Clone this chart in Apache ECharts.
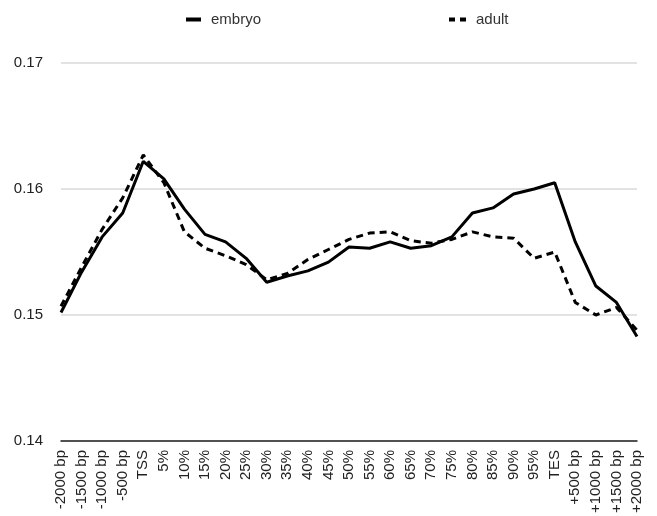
<!DOCTYPE html>
<html>
<head>
<meta charset="utf-8">
<script src="https://cdn.jsdelivr.net/npm/echarts@6/dist/echarts.min.js"></script>
<style>
html,body{margin:0;padding:0;background:#fff;}
#c{width:657px;height:516px;}
</style>
</head>
<body>
<div id="c"></div>
<script>
var categories = ['-2000 bp','-1500 bp','-1000 bp','-500 bp','TSS','5%','10%','15%','20%','25%','30%','35%','40%','45%','50%','55%','60%','65%','70%','75%','80%','85%','90%','95%','TES','+500 bp','+1000 bp','+1500 bp','+2000 bp'];
var embryo = [0.1502,0.1534,0.1562,0.1581,0.1622,0.1608,0.1584,0.1564,0.1558,0.1545,0.1526,0.1531,0.1535,0.1542,0.1554,0.1553,0.1558,0.1553,0.1555,0.1562,0.1581,0.1585,0.1596,0.1600,0.1605,0.1558,0.1523,0.1510,0.1483];
var adult = [0.1507,0.1538,0.1568,0.1593,0.1627,0.1605,0.1566,0.1553,0.1547,0.1540,0.1528,0.1533,0.1544,0.1552,0.1560,0.1565,0.1566,0.1559,0.1557,0.1560,0.1566,0.1562,0.1561,0.1545,0.1550,0.1510,0.1500,0.1506,0.1488];
var yTicks = {min:0.14, max:0.17, interval:0.01};

var chart = echarts.init(document.getElementById('c'), null, {renderer:'canvas'});
var font = 'Liberation Sans, Arial, sans-serif';
var legendText = {fontSize:15, color:'#333', fontFamily:font, padding:[0,0,0,5]};
chart.setOption({
  animation:false,
  textStyle:{fontFamily:font},
  legend:[
    {data:[{name:'embryo', icon:'path://M0,0h15v4h-15z'}], left:181, top:7, itemWidth:15, itemHeight:4, textStyle:legendText},
    {data:[{name:'adult', icon:'path://M0,0h6v4h-6z M11,0h6v4h-6z'}], left:444, top:7, itemWidth:17, itemHeight:4, textStyle:legendText}
  ],
  grid:{left:61, right:20, top:63, bottom:74, containLabel:false},
  xAxis:{
    type:'category', data:categories, boundaryGap:false,
    axisLine:{lineStyle:{color:'#222',width:1.5}},
    axisTick:{show:false},
    axisLabel:{rotate:90, interval:0, fontSize:15, color:'#222', margin:9, fontFamily:font},
    splitLine:{show:false}
  },
  yAxis:{
    type:'value', min:yTicks.min, max:yTicks.max, interval:yTicks.interval,
    axisLine:{show:false}, axisTick:{show:false},
    axisLabel:{fontSize:15, color:'#222', margin:18, fontFamily:font, formatter:function(v){return v.toFixed(2);}},
    splitLine:{lineStyle:{color:'#e2e2e2',width:2}}
  },
  series:[
    {name:'embryo', type:'line', data:embryo, symbol:'none', lineStyle:{color:'#000',width:3}, itemStyle:{color:'#000'}},
    {name:'adult', type:'line', data:adult, symbol:'none', lineStyle:{color:'#000',width:3,type:[7,5]}, itemStyle:{color:'#000'}}
  ]
});
</script>
</body>
</html>
